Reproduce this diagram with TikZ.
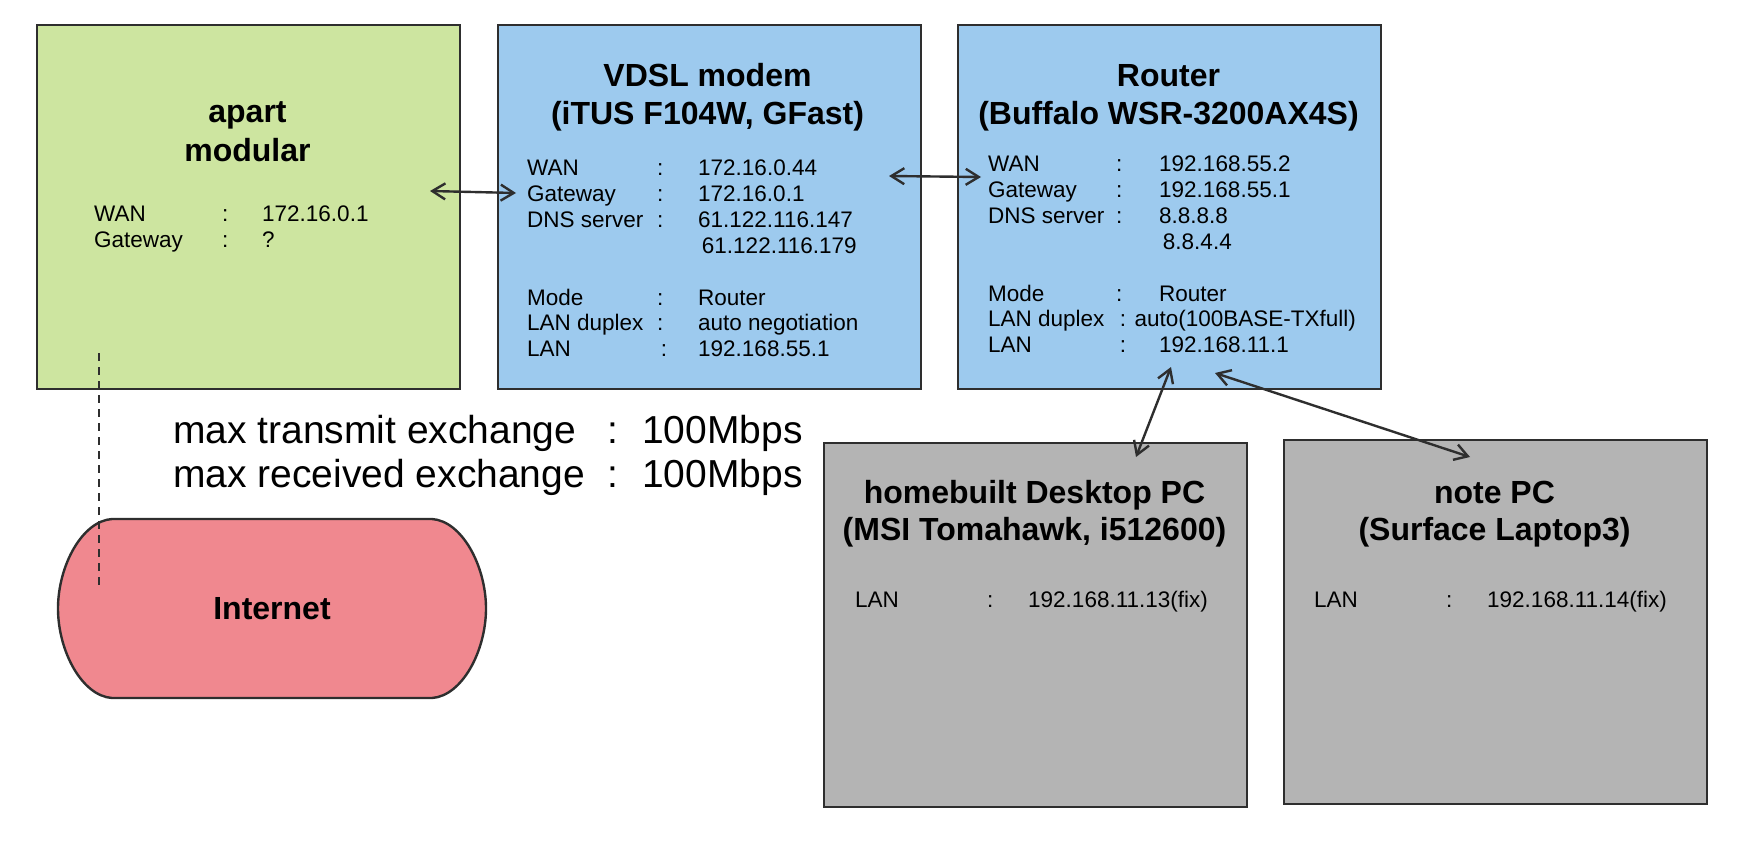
\documentclass[tikz,border=0pt]{standalone}
\usepackage{fontspec}
\setmainfont{Liberation Sans}
\usetikzlibrary{arrows.meta}
\definecolor{gfill}{HTML}{CDE5A0}
\definecolor{bfill}{HTML}{9DCAEE}
\definecolor{rfill}{HTML}{F0888F}
\definecolor{pfill}{HTML}{B4B4B4}
\definecolor{edge}{HTML}{2E2E2E}
\tikzset{
  box/.style={draw=edge, line width=2.4pt, minimum width=423pt, minimum height=364pt, inner sep=0pt, anchor=north west},
  ttl/.style={anchor=base, inner sep=0pt, font=\fontsize{32}{37.5}\selectfont\bfseries},
  body/.style={anchor=base west, inner sep=0pt, font=\fontsize{22.5}{25.8}\selectfont},
  link/.style={draw=edge, line width=2.4pt, {Straight Barb[length=13pt,width=16pt]}-{Straight Barb[length=13pt,width=16pt]}},
}
\begin{document}
\begin{tikzpicture}[x=1pt,y=-1pt]
\useasboundingbox (0,0) rectangle (1739,853);

% boxes
\node[box, fill=gfill] (green) at (36,24) {};
\node[box, fill=bfill] (vdsl) at (497,24) {};
\node[box, fill=bfill] (router) at (957,24) {};
\node[box, fill=pfill] (desk) at (823,442) {};
\node[box, fill=pfill] (note) at (1283,439) {};

% titles
\node[ttl, font=\fontsize{32}{39}\selectfont\bfseries] (gtitle) at (247.5,123) {\begin{tabular}[t]{@{}c@{}}apart\\modular\end{tabular}};
\node[ttl] (vtitle) at (707.5,87) {\begin{tabular}[t]{@{}c@{}}VDSL modem\\(iTUS F104W, GFast)\end{tabular}};
\node[ttl] (rtitle) at (1168.5,87) {\begin{tabular}[t]{@{}c@{}}Router\\(Buffalo WSR-3200AX4S)\end{tabular}};
\node[ttl] (dtitle) at (1034.5,503) {\begin{tabular}[t]{@{}c@{}}homebuilt Desktop PC\\(MSI Tomahawk, i512600)\end{tabular}};
\node[ttl] (ntitle) at (1494.5,503) {\begin{tabular}[t]{@{}c@{}}note PC\\(Surface Laptop3)\end{tabular}};

% bodies
\node[body] (gbody) at (94,222) {\begin{tabular}[t]{@{}p{128pt}@{}p{40pt}@{}l@{}}
WAN & : & 172.16.0.1\\
Gateway & : & ?
\end{tabular}};
\node[body] (vbody) at (527,176) {\begin{tabular}[t]{@{}p{130pt}@{}p{41pt}@{}l@{}}
WAN & : & 172.16.0.44\\
Gateway & : & 172.16.0.1\\
DNS server & : & 61.122.116.147\\
 & & \,61.122.116.179\\
 & & \\
Mode & : & Router\\
LAN duplex & : & auto negotiation\\
LAN & \,: & 192.168.55.1
\end{tabular}};
\node[body] (rbody) at (988,172) {\begin{tabular}[t]{@{}p{128pt}@{}p{43pt}@{}l@{}}
WAN & : & 192.168.55.2\\
Gateway & : & 192.168.55.1\\
DNS server & : & 8.8.8.8\\
 & & \,8.8.4.4\\
 & & \\
Mode & : & Router\\
LAN duplex & \multicolumn{2}{@{}l@{}}{\,: auto(100BASE-TXfull)}\\
LAN & \,: & 192.168.11.1
\end{tabular}};
\node[body] (dbody) at (855,607) {\begin{tabular}[t]{@{}p{132pt}@{}p{41pt}@{}l@{}}
LAN & : & 192.168.11.13(fix)
\end{tabular}};
\node[body] (nbody) at (1314,607) {\begin{tabular}[t]{@{}p{132pt}@{}p{41pt}@{}l@{}}
LAN & : & 192.168.11.14(fix)
\end{tabular}};

% speed note
\node[anchor=base west, inner sep=0pt, font=\fontsize{39}{44}\selectfont] (speed) at (173,443) {\begin{tabular}[t]{@{}p{434pt}@{}p{35pt}@{}l@{}}
max transmit exchange & : & 100Mbps\\
max received exchange & : & 100Mbps
\end{tabular}};

% Internet shape
\draw[draw=edge, line width=2.4pt, fill=rfill]
  (112,519) -- (432,519)
  .. controls (462,521) and (486,566) .. (486,608.5)
  .. controls (486,651) and (462,696) .. (432,698)
  -- (112,698)
  .. controls (82,696) and (58,651) .. (58,608.5)
  .. controls (58,566) and (82,521) .. (112,519) -- cycle;
\node[inner sep=0pt, font=\fontsize{32}{37}\selectfont\bfseries] (inet) at (272,608.5) {Internet};

% connectors
\coordinate (g1) at (430,191);
\coordinate (v1) at (516,193);
\coordinate (v2) at (889,176);
\coordinate (r1) at (981,177);
\coordinate (r2) at (1171,367);
\coordinate (d1) at (1136,457);
\coordinate (r3) at (1215,373);
\coordinate (n1) at (1470,457);
\coordinate (gd) at (99,353);
\coordinate (id) at (99,587);

\draw[link] (g1) -- (v1);
\draw[link] (v2) -- (r1);
\draw[link] (r2) -- (d1);
\draw[link] (r3) -- (n1);
\draw[draw=edge, line width=2.2pt, dash pattern=on 8pt off 6pt] (gd) -- (id);
\end{tikzpicture}
\end{document}
